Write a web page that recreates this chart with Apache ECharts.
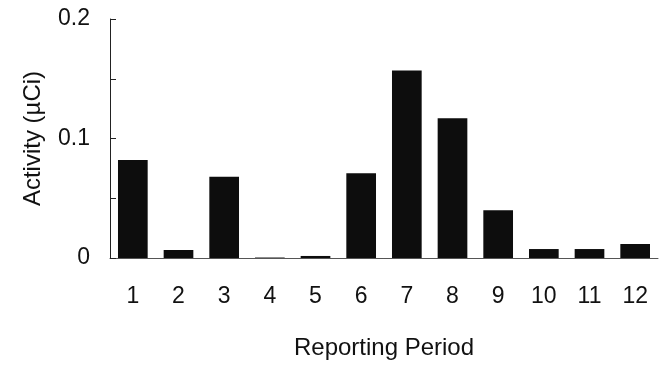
<!DOCTYPE html>
<html lang="en">
<head>
    <meta charset="UTF-8">
    <title>Activity by Reporting Period</title>
    <script src="https://cdn.jsdelivr.net/npm/echarts@6/dist/echarts.min.js"></script>
    <style>
        html, body { margin: 0; padding: 0; background: #fff; }
        #main { width: 659px; height: 366px; }
    </style>
</head>
<body>
    <div id="main"></div>
    <script type="text/javascript">
        // values
        var periods = ['1', '2', '3', '4', '5', '6', '7', '8', '9', '10', '11', '12'];
        var activity = [0.082, 0.0067, 0.068, 0.0004, 0.0017, 0.071, 0.157, 0.117, 0.040, 0.0075, 0.0075, 0.0117];

        var myChart = echarts.init(document.getElementById('main'));

        var font = 'Liberation Sans, Arial, Helvetica, sans-serif';

        var option = {
            animation: false,
            grid: { left: 110, right: 1, top: 19, bottom: 108 },
            xAxis: {
                type: 'category',
                data: periods,
                name: 'Reporting Period',
                nameLocation: 'middle',
                nameGap: 78,
                nameTextStyle: { fontFamily: font, fontSize: 24, color: '#111' },
                axisLine: { lineStyle: { color: '#555', width: 1 } },
                axisTick: { show: false },
                axisLabel: { margin: 27, fontFamily: font, fontSize: 23, color: '#111' }
            },
            yAxis: {
                type: 'value',
                min: 0,
                max: 0.2,
                interval: 0.1,
                name: 'Activity (\u00b5Ci)',
                nameLocation: 'middle',
                nameGap: 65,
                nameTextStyle: { fontFamily: font, fontSize: 24, color: '#111' },
                axisLine: { show: true, lineStyle: { color: '#222', width: 1 } },
                axisTick: { show: true, inside: true, length: 6, lineStyle: { color: '#222' } },
                minorTick: { show: true, splitNumber: 2, length: 6, lineStyle: { color: '#222' } },
                splitLine: { show: false },
                axisLabel: { margin: 20, fontFamily: font, fontSize: 23, color: '#111' }
            },
            series: [{
                name: 'Activity',
                type: 'bar',
                data: activity,
                barWidth: '65%',
                itemStyle: { color: '#0d0d0d' }
            }]
        };

        myChart.setOption(option);
    </script>
</body>
</html>
